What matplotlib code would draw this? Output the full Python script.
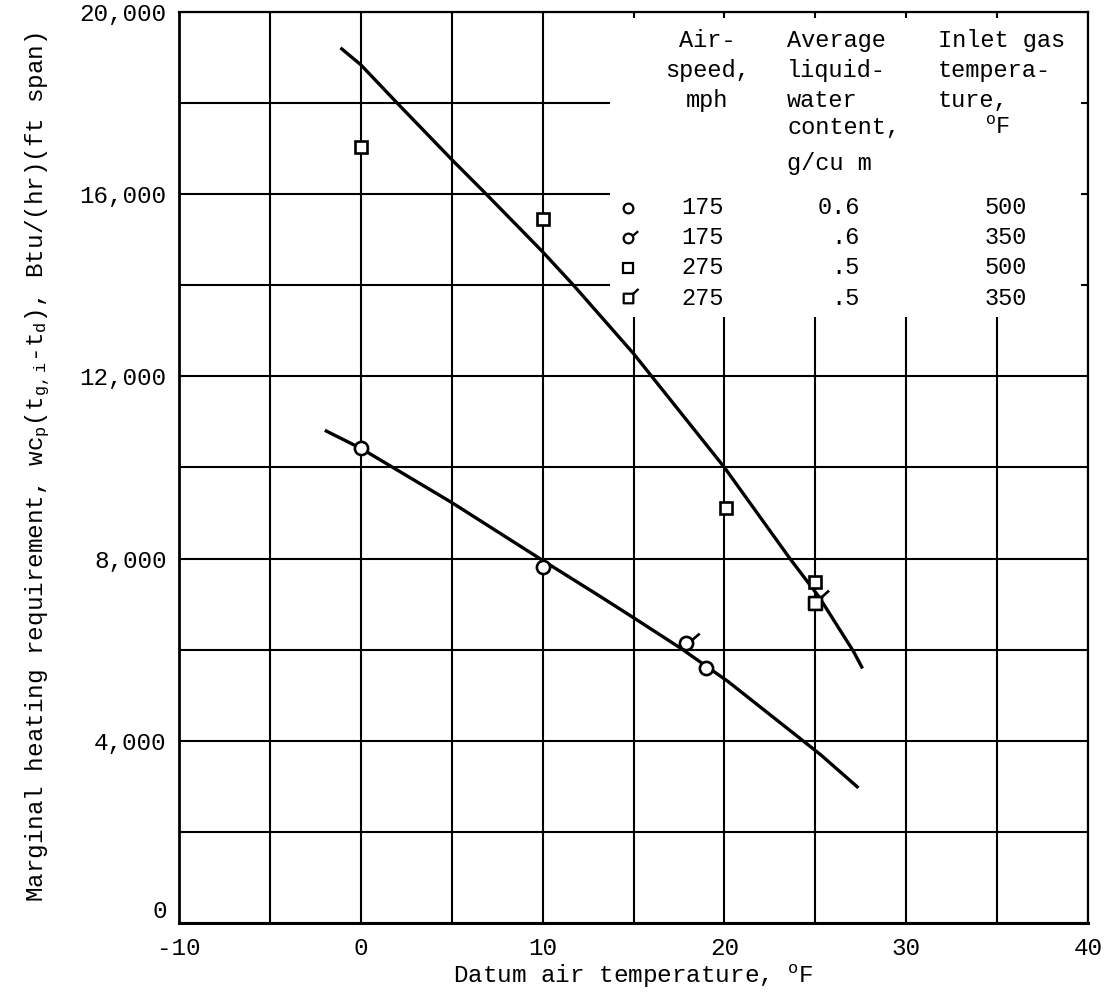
import matplotlib
matplotlib.use("Agg")
import matplotlib.pyplot as plt
from matplotlib.path import Path
from matplotlib.patches import Rectangle
from matplotlib.ticker import MultipleLocator, StrMethodFormatter

# data
circle_x = [0, 10, 19]            # 175 mph, 0.6 g/cu m, 500 F
circle_y = [10430, 7820, 5600]
circle_flag_x = [17.9]            # 175 mph, 0.6 g/cu m, 350 F
circle_flag_y = [6150]
square_x = [0, 10, 20.1, 25]      # 275 mph, 0.5 g/cu m, 500 F
square_y = [17030, 15450, 9110, 7490]
square_flag_x = [25]              # 275 mph, 0.5 g/cu m, 350 F
square_flag_y = [7030]

# faired curves
curve_175_x = [-1.9, 0, 5, 10, 13.2, 15.2, 17.6, 20.2, 25.3, 27.3]
curve_175_y = [10800, 10420, 9230, 7960, 7160, 6650, 6030, 5300, 3690, 2990]
curve_275_x = [-1.05, 0, 2, 5, 6.9, 10, 11.7, 15, 16, 20, 23.6, 25.2, 27.1, 27.55]
curve_275_y = [19190, 18840, 18000, 16760, 16000, 14735, 14000, 12500, 12000, 10000, 8000, 7160, 5960, 5620]

table_speed = ["175", "175", "275", "275"]
table_lwc = ["0.6", ".6", ".5", ".5"]
table_gas = ["500", "350", "500", "350"]

plt.rcParams["font.family"] = ["Liberation Mono", "DejaVu Sans Mono"]
plt.rcParams["mathtext.default"] = "regular"
plt.rcParams["axes.unicode_minus"] = False

# open markers with a small flag (350 F runs)
circ = Path.unit_circle()
flag_c = Path([(0.95, 0.6), (2.0, 1.5)], [Path.MOVETO, Path.LINETO])
flag_circle = Path.make_compound_path(circ, flag_c)
sq = Path([(-1, -1), (1, -1), (1, 1), (-1, 1), (-1, -1)],
          [Path.MOVETO, Path.LINETO, Path.LINETO, Path.LINETO, Path.CLOSEPOLY])
flag_s = Path([(1, 1), (2.1, 2.0)], [Path.MOVETO, Path.LINETO])
flag_square = Path.make_compound_path(sq, flag_s)

fig = plt.figure(figsize=(11.17, 9.92), dpi=100)
ax = fig.add_axes([0.1603, 0.0696, 0.8138, 0.9183])

ax.set_xlim(-10, 40)
ax.set_ylim(0, 20000)
ax.xaxis.set_major_locator(MultipleLocator(10))
ax.xaxis.set_minor_locator(MultipleLocator(5))
ax.yaxis.set_major_locator(MultipleLocator(4000))
ax.yaxis.set_minor_locator(MultipleLocator(2000))
ax.yaxis.set_major_formatter(StrMethodFormatter("{x:,.0f}"))
ax.tick_params(which="both", length=0, labelsize=17.5)
ax.tick_params(axis="x", pad=10)
ax.tick_params(axis="y", pad=9)
ax.set_axisbelow(True)
ax.grid(which="both", color="black", linewidth=1.5)
for s in ax.spines.values():
    s.set_linewidth(1.6)
ax.spines["bottom"].set_linewidth(2.2)
ax.spines["left"].set_linewidth(2.0)

for lab in ax.get_yticklabels():
    if lab.get_text() == "0":
        lab.set_va("bottom")

# white key block covering the grid
ax.add_patch(Rectangle((13.7, 13300), 39.6 - 13.7, 19870 - 13300,
                       facecolor="white", edgecolor="none", zorder=1))

ax.plot(curve_175_x, curve_175_y, color="black", lw=2.4, zorder=2)
ax.plot(curve_275_x, curve_275_y, color="black", lw=2.4, zorder=2)

mk = dict(linestyle="none", color="black", mfc="white", mew=1.9, zorder=3)
ax.plot(circle_x, circle_y, marker="o", ms=9.5, **mk)
ax.plot(circle_flag_x, circle_flag_y, marker=flag_circle, ms=19, **mk)
ax.plot(square_x, square_y, marker="s", ms=9.2, **mk)
ax.plot(square_flag_x, square_flag_y, marker=flag_square, ms=19.5, **mk)

ax.set_xlabel("Datum air temperature, $^{o}$F", fontsize=17.5, labelpad=2)
ax.set_ylabel("Marginal heating requirement, wc$_{p}$(t$_{g,i}$-t$_{d}$), Btu/(hr)(ft span)",
              fontsize=17.5, labelpad=20)

# key table
fs = 17
tr = ax.transAxes
hdr_y = [0.969, 0.936, 0.903, 0.873, 0.834]
for txt, yy in zip(["Air-", "speed,", "mph"], hdr_y):
    ax.text(0.581, yy, txt, transform=tr, ha="center", va="center", fontsize=fs, zorder=4)
for txt, yy in zip(["Average", "liquid-", "water", "content,", "g/cu m"], hdr_y):
    ax.text(0.669, yy, txt, transform=tr, ha="left", va="center", fontsize=fs, zorder=4)
for txt, yy in zip(["Inlet gas", "tempera-", "ture,"], hdr_y):
    ax.text(0.835, yy, txt, transform=tr, ha="left", va="center", fontsize=fs, zorder=4)
ax.text(0.901, hdr_y[3], "$^{o}$F", transform=tr, ha="center", va="center", fontsize=fs, zorder=4)

row_y = [0.785, 0.752, 0.719, 0.686]
row_markers = [("o", 7), (flag_circle, 14), ("s", 6.8), (flag_square, 14.5)]
for (m, size), yy in zip(row_markers, row_y):
    ax.plot([0.494], [yy], transform=tr, marker=m, ms=size, linestyle="none",
            color="black", mfc="white", mew=1.6, clip_on=False, zorder=4)
for sp, lw, gas, yy in zip(table_speed, table_lwc, table_gas, row_y):
    ax.text(0.576, yy, sp, transform=tr, ha="center", va="center", fontsize=fs, zorder=4)
    ax.text(0.749, yy, lw, transform=tr, ha="right", va="center", fontsize=fs, zorder=4)
    ax.text(0.933, yy, gas, transform=tr, ha="right", va="center", fontsize=fs, zorder=4)

fig.savefig("out.png", dpi=100)
